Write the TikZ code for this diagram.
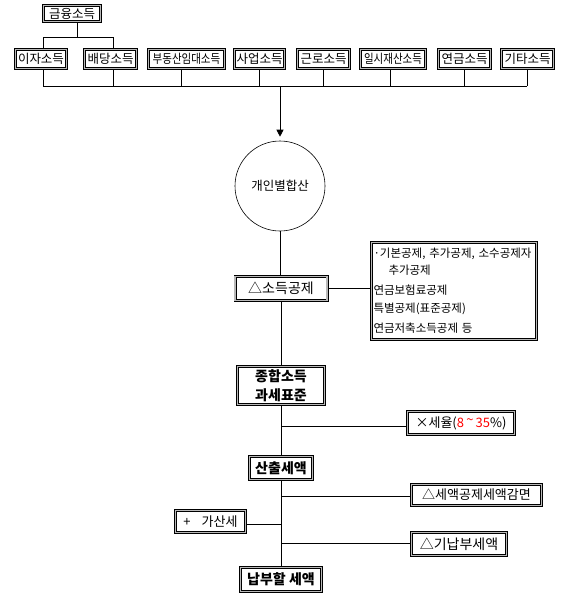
\documentclass[tikz,border=0pt]{standalone}
\usepackage{fontspec}
\setmainfont{Noto Sans CJK KR}
\usetikzlibrary{arrows.meta,calc}
\newcommand\myfs[2][1.2]{\fontsize{#2}{\fpeval{#2*#1}}\selectfont}
\tikzset{
  bx/.style={draw=black, line width=0.85pt, double=gray!55, double distance=1.3pt,
    inner sep=0pt, outer sep=1.5pt, text=black},
  sz/.style 2 args={minimum width=#1pt-3pt, minimum height=#2pt-3pt},
  ln/.style={draw=black, line width=0.8pt},
  topf/.style={font=\myfs{12.5}},
}
\begin{document}
\begin{tikzpicture}[x=1pt,y=-1pt]
\useasboundingbox[fill=white] (0,0) rectangle (568,598);

% top row
\node[bx,sz={60}{19},topf] (fin) at (72,13.5) {금융소득};
\node[bx,sz={54}{22},topf] (i1) at (41,59) {이자소득};
\node[bx,sz={55}{22},topf] (i2) at (110.5,59) {배당소득};
\node[bx,sz={79}{22},topf] (i3) at (186.5,59) {\scalebox{0.84}[1]{부동산임대소득}};
\node[bx,sz={53}{22},topf] (i4) at (259.5,59) {사업소득};
\node[bx,sz={55}{22},topf] (i5) at (323.5,59) {근로소득};
\node[bx,sz={68}{22},topf] (i6) at (393,59) {\scalebox{0.84}[1]{일시재산소득}};
\node[bx,sz={55}{22},topf] (i7) at (464.5,59) {연금소득};
\node[bx,sz={55}{22},topf] (i8) at (527.5,59) {기타소득};

% tree from 금융소득
\coordinate (tx) at (77,37);
\coordinate (tl) at (43,37);
\coordinate (tr) at (113,37);
\draw[ln] (fin.south -| tx) -- (tx);
\draw[ln] (tl) -- (tr);
\draw[ln] (tl) -- (tl |- i1.north);
\draw[ln] (tr) -- (tr |- i2.north);

% bus
\coordinate (b1) at (43,86);
\coordinate (b2) at (113,86);
\coordinate (b3) at (181,86);
\coordinate (b4) at (259,86);
\coordinate (b5) at (323,86);
\coordinate (b6) at (390,86);
\coordinate (b7) at (464,86);
\coordinate (b8) at (527,86);
\coordinate (bm) at (280,86);
\draw[ln] (b1) -- (b8);
\foreach \k in {1,...,8}{\draw[ln] (b\k |- i\k.south) -- (b\k);}

% circle
\node[circle,draw=black,line width=0.6pt,minimum size=90pt,inner sep=0pt,font=\myfs{12.5}] (circ) at (280,186) {개인별합산};
\draw[ln,-{Triangle[width=7pt,length=7pt]},shorten >=4pt] (bm) -- (bm |- circ.north);

% 소득공제
\node[bx,sz={95}{27},font=\myfs{14}] (sodeuk) at (281,288.5) {△소득공제};
\node[bx,sz={168}{100},align=left,text width=161pt,font={\myfs[1.45]{11.5}}] (lst) at (454,291)
  {·기본공제, 추가공제, 소수공제자\\\hspace*{15pt}추가공제\\[3pt]연금보험료공제\\[2pt]특별공제(표준공제)\\[3pt]연금저축소득공제 등};
\draw[ln] (circ.south) -- (circ.south |- sodeuk.north);
\draw[ln] (sodeuk.east) -- (sodeuk.east -| lst.west);

% 종합소득 과세표준
\node[bx,sz={90}{41},align=center,font={\bfseries\myfs[1.35]{14}}] (jong) at (281,385.5) {종합소득\\과세표준};
\draw[ln] (sodeuk.south) -- (jong.north);

\node[bx,sz={110}{26},font=\myfs{13}] (rate) at (461,423) {×세율(\textcolor{red}{8\,\raisebox{2.5pt}{\textasciitilde}\,35}\%)};
\node[bx,sz={66}{26},font=\bfseries\myfs{14}] (sanchul) at (281,468) {산출세액};
\coordinate (c1) at (281,426);
\draw[ln] (jong.south) -- (sanchul.north);
\draw[ln] (c1) -- (c1 -| rate.west);

\node[bx,sz={133}{24},font=\myfs{13}] (gam) at (476.5,495) {△세액공제세액감면};
\node[bx,sz={73}{25},font=\myfs{13}] (gasan) at (210.5,521.5) {+\hspace{11pt}가산세};
\node[bx,sz={98}{26},font=\myfs{14}] (gina) at (459,544) {△기납부세액};
\node[bx,sz={84}{27},font=\bfseries\myfs{14}] (napbu) at (281,579.5) {납부할 세액};
\coordinate (c2) at (281,496);
\coordinate (c3) at (281,524);
\coordinate (c4) at (281,543);
\draw[ln] (sanchul.south) -- (napbu.north);
\draw[ln] (c2) -- (c2 -| gam.west);
\draw[ln] (c3) -- (c3 -| gasan.east);
\draw[ln] (c4) -- (c4 -| gina.west);
\end{tikzpicture}
\end{document}
